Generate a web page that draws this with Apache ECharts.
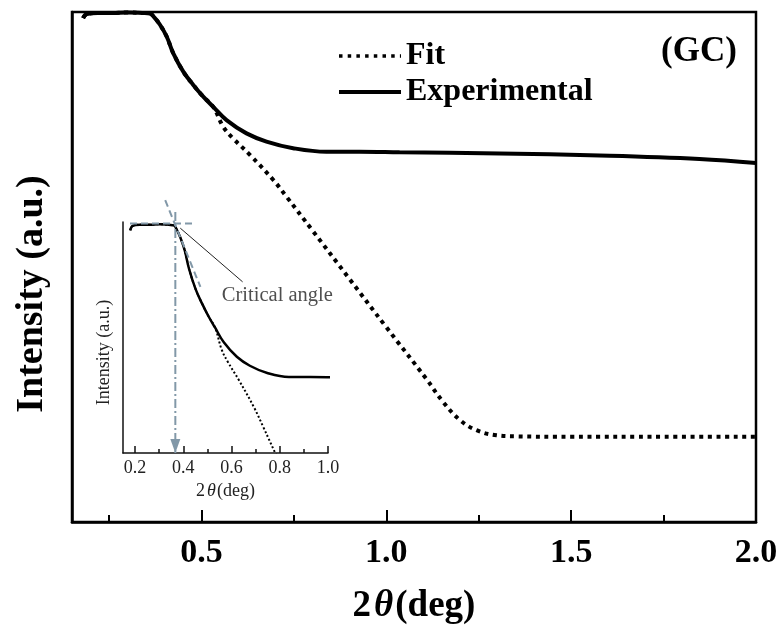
<!DOCTYPE html>
<html>
<head>
<meta charset="utf-8">
<script src="https://cdn.jsdelivr.net/npm/echarts@6/dist/echarts.min.js"></script>
<style>
  html, body { margin: 0; padding: 0; background: #fff; }
  #chart { width: 782px; height: 638px; }
</style>
</head>
<body>
<div id="chart"></div>
<script>
// Reflectivity scan: measured intensity vs. 2θ, with the fitted curve
const expTheta = [0.18, 0.19, 0.22, 0.26, 0.30, 0.34, 0.361, 0.372, 0.388, 0.406, 0.424, 0.451, 0.478, 0.505, 0.532,
                  0.568, 0.622, 0.676, 0.748, 0.838, 0.928, 1.036, 1.307, 1.577, 1.847, 2.0];
const expIntensity = [98.8, 99.6, 99.8, 99.8, 99.9, 99.8, 99.7, 99.0, 97.5, 95.2, 91.9, 88.3, 85.7, 83.4, 81.4,
                      78.8, 76.2, 74.6, 73.3, 72.6, 72.6, 72.5, 72.25, 71.86, 71.18, 70.39];

const fitTheta = [0.18, 0.19, 0.22, 0.26, 0.30, 0.34, 0.361, 0.372, 0.388, 0.406, 0.424, 0.451, 0.478, 0.505, 0.532,
                  0.559, 0.586, 0.631, 0.694, 0.73, 0.8, 0.9, 1.0, 1.109, 1.153, 1.199, 1.244, 1.298, 1.35, 1.5, 1.75, 2.0];
const fitIntensity = [98.8, 99.6, 99.8, 99.8, 99.9, 99.8, 99.7, 99.0, 97.5, 95.2, 91.9, 88.3, 85.7, 83.4, 81.4,
                      77.5, 75.2, 72.0, 67.1, 63.8, 57.2, 47.7, 38.2, 28.0, 23.6, 20.0, 18.0, 17.0, 16.8, 16.7, 16.7, 16.7];

// Axis ticks
const mainMajorTicks = [0.5, 1.0, 1.5, 2.0];
const mainMinorTicks = [0.25, 0.75, 1.25, 1.75];
const insetMajorTicks = [0.2, 0.4, 0.6, 0.8, 1.0];
const insetMinorTicks = [0.3, 0.5, 0.7, 0.9];

// Critical-angle construction in the inset
const criticalAngle = 0.367;
const plateauGuide = [[0.179, 100.05], [0.45, 100.05]];
const criticalDrop = [[criticalAngle, 102.1], [criticalAngle, 59.0]];
const tangentGuide = [[0.325, 104.2], [0.471, 88.7]];
const leaderLine = [[0.3875, 99.2], [0.646, 89.6]];
const leaderLabelPos = [0.79, 87.2];

const zip = (xs, ys) => xs.map((x, i) => [x, ys[i]]);
const serif = 'Liberation Serif';
const guideColor = '#8298a8';

const chart = echarts.init(document.getElementById('chart'), null, { renderer: 'canvas' });

const option = {
  animation: false,
  backgroundColor: '#fff',
  title: {
    text: '(GC)', left: 661, top: 34, padding: 0,
    textStyle: { fontFamily: serif, fontWeight: 'bold', fontSize: 35, color: '#000' }
  },
  legend: {
    data: [
      { name: 'Fit', lineStyle: { width: 3.5, type: [3.5, 5.2], color: '#000' } },
      { name: 'Experimental', lineStyle: { width: 4, color: '#000' } }
    ],
    orient: 'vertical', left: 337, top: 40, padding: 0,
    itemWidth: 62, itemHeight: 12, itemGap: 4,
    selectedMode: false,
    itemStyle: { color: 'rgba(0,0,0,0)', opacity: 0, borderWidth: 0 },
    textStyle: { fontFamily: serif, fontWeight: 'bold', fontSize: 32, color: '#000', lineHeight: 30 }
  },
  grid: [
    { left: 72, top: 12, width: 684, height: 510, show: true, borderColor: '#000', borderWidth: 2.5, backgroundColor: 'transparent' },
    { left: 123, top: 222, width: 205, height: 231, show: false }
  ],
  xAxis: [
    {
      gridIndex: 0, type: 'value', min: 0.15, max: 2.0, position: 'bottom',
      axisLine: { show: true, lineStyle: { color: '#000', width: 2.5 } },
      axisTick: { show: true, inside: true, length: 12, customValues: mainMajorTicks, lineStyle: { color: '#000', width: 2 } },
      axisLabel: {
        customValues: mainMajorTicks, formatter: v => v.toFixed(1), margin: 14,
        fontFamily: serif, fontWeight: 'bold', fontSize: 34, color: '#000'
      },
      splitLine: { show: false },
      name: '{n|2}{t|θ}{n|(deg)}', nameLocation: 'middle', nameGap: 66,
      nameTextStyle: {
        rich: {
          n: { fontFamily: serif, fontWeight: 'bold', fontSize: 37, color: '#000' },
          t: { fontFamily: serif, fontWeight: 'bold', fontStyle: 'italic', fontSize: 37, color: '#000', padding: [0, 2, 0, 3] }
        }
      }
    },
    {
      gridIndex: 0, type: 'value', min: 0.15, max: 2.0, position: 'bottom',
      axisLine: { show: false },
      axisTick: { show: true, inside: true, length: 7, customValues: mainMinorTicks, lineStyle: { color: '#000', width: 2 } },
      axisLabel: { show: false },
      splitLine: { show: false }
    },
    {
      gridIndex: 1, type: 'value', min: 0.15, max: 1.0, position: 'bottom',
      axisLine: { show: true, lineStyle: { color: '#111', width: 1.5 } },
      axisTick: { show: true, inside: true, length: 7, customValues: insetMajorTicks, lineStyle: { color: '#111', width: 1.5 } },
      axisLabel: {
        customValues: insetMajorTicks, formatter: v => v.toFixed(1), margin: 6,
        fontFamily: serif, fontSize: 18, color: '#222'
      },
      splitLine: { show: false },
      name: '{n|2}{t|θ}{n|(deg)}', nameLocation: 'middle', nameGap: 29,
      nameTextStyle: {
        rich: {
          n: { fontFamily: serif, fontSize: 18, color: '#222' },
          t: { fontFamily: serif, fontStyle: 'italic', fontSize: 18, color: '#222', padding: [0, 1, 0, 2] }
        }
      }
    },
    {
      gridIndex: 1, type: 'value', min: 0.15, max: 1.0, position: 'bottom',
      axisLine: { show: false },
      axisTick: { show: true, inside: true, length: 4, customValues: insetMinorTicks, lineStyle: { color: '#111', width: 1.5 } },
      axisLabel: { show: false },
      splitLine: { show: false }
    }
  ],
  yAxis: [
    {
      gridIndex: 0, type: 'value', min: 0, max: 100,
      axisLine: { show: true, lineStyle: { color: '#000', width: 2.5 } },
      axisTick: { show: false }, axisLabel: { show: false }, splitLine: { show: false },
      name: 'Intensity (a.u.)', nameLocation: 'middle', nameGap: 21,
      nameTextStyle: { fontFamily: serif, fontWeight: 'bold', fontSize: 38, color: '#000', padding: [0, 54, 0, 0] }
    },
    {
      gridIndex: 1, type: 'value', min: 59, max: 100.3,
      axisLine: { show: true, lineStyle: { color: '#111', width: 1.5 } },
      axisTick: { show: false }, axisLabel: { show: false }, splitLine: { show: false },
      name: 'Intensity (a.u.)', nameLocation: 'middle', nameGap: 10,
      nameTextStyle: { fontFamily: serif, fontSize: 18, color: '#222', padding: [0, 30, 0, 0] }
    }
  ],
  series: [
    {
      name: 'Fit', type: 'line', xAxisIndex: 0, yAxisIndex: 0,
      data: zip(fitTheta, fitIntensity), showSymbol: false, symbol: 'none',
      smooth: 0.4, z: 2, itemStyle: { color: '#000' },
      lineStyle: { color: '#000', width: 4, type: [4, 4.6] }
    },
    {
      name: 'Experimental', type: 'line', xAxisIndex: 0, yAxisIndex: 0,
      data: zip(expTheta, expIntensity), showSymbol: false, symbol: 'none',
      smooth: 0.4, z: 3, itemStyle: { color: '#000' },
      lineStyle: { color: '#000', width: 4 }
    },
    {
      name: 'Fit', type: 'line', xAxisIndex: 2, yAxisIndex: 1,
      data: zip(fitTheta, fitIntensity), showSymbol: false, symbol: 'none',
      smooth: 0.4, z: 2, itemStyle: { color: '#000' },
      lineStyle: { color: '#000', width: 2, type: [2, 2.2] }
    },
    {
      name: 'Experimental', type: 'line', xAxisIndex: 2, yAxisIndex: 1,
      data: zip(expTheta, expIntensity), showSymbol: false, symbol: 'none',
      smooth: 0.4, z: 3, itemStyle: { color: '#000' },
      lineStyle: { color: '#000', width: 2.5 }
    },
    {
      name: 'plateau', type: 'line', xAxisIndex: 2, yAxisIndex: 1, clip: false,
      data: plateauGuide, symbol: 'none', silent: true, z: 4,
      lineStyle: { color: guideColor, width: 2, type: [7, 4] }
    },
    {
      name: 'tangent', type: 'line', xAxisIndex: 2, yAxisIndex: 1, clip: false,
      data: tangentGuide, symbol: 'none', silent: true, z: 4,
      lineStyle: { color: guideColor, width: 2, type: [7, 4] }
    },
    {
      name: 'critical', type: 'line', xAxisIndex: 2, yAxisIndex: 1, clip: false,
      showSymbol: true, symbol: 'none', silent: true, z: 4,
      data: [
        { value: criticalDrop[0], symbol: 'none' },
        { value: criticalDrop[1], symbol: 'triangle', symbolSize: [10, 14], symbolRotate: 180, symbolOffset: [0, -7],
          itemStyle: { color: guideColor } }
      ],
      lineStyle: { color: guideColor, width: 2, type: [9, 3, 2, 3] }
    },
    {
      name: 'leader', type: 'line', xAxisIndex: 2, yAxisIndex: 1, clip: false,
      data: leaderLine, symbol: 'none', silent: true, z: 5,
      lineStyle: { color: '#222', width: 1 }
    },
    {
      name: 'leaderLabel', type: 'scatter', xAxisIndex: 2, yAxisIndex: 1, silent: true,
      data: [leaderLabelPos], symbolSize: 1, itemStyle: { color: 'rgba(0,0,0,0)' },
      label: {
        show: true, position: 'inside', formatter: 'Critical angle',
        fontFamily: serif, fontSize: 20.5, color: '#222'
      }
    }
  ]
};

chart.setOption(option);
</script>
</body>
</html>
